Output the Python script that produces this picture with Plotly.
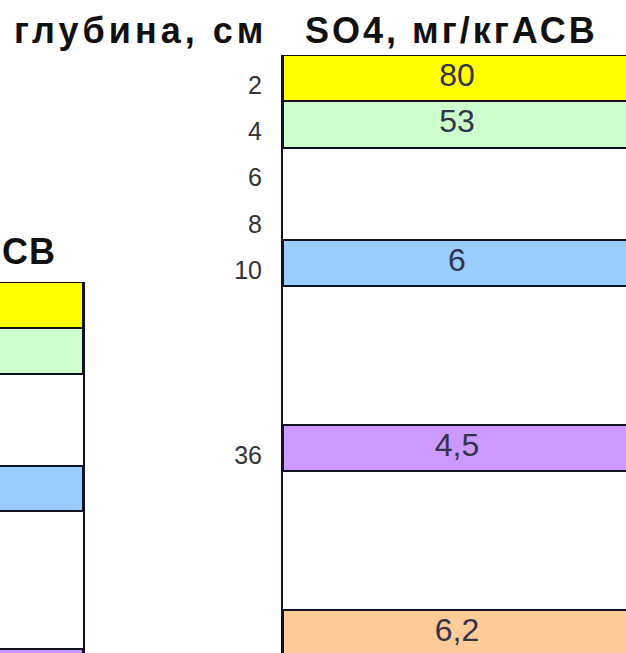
import plotly.graph_objects as go

# ---- data ----
depths = [2, 4, 6, 8, 10, 36, 50]            # глубина, см (tick labels)
rows = [0, 1, 2, 3, 4, 8, 12]                # row slot of each depth on the broken scale
so4_values = [80, 53, None, None, 6, 4.5, 6.2]
so4_labels = ["80", "53", "", "", "6", "4,5", "6,2"]
band_colors = ["#FFFF00", "#CCFFCC", None, None, "#99CCFF", "#CC99FF", "#FFCC99"]

title_depth = "глубина, см"
title_so4 = "SO4, мг/кгАСВ"
title_cropped = "СВ"   # visible tail of the neighbouring chart's title

W, H = 626, 653

# only layers with a measured value get a coloured band
bar_y = [r for r, v in zip(rows, so4_values) if v is not None]
bar_c = [c for c, v in zip(band_colors, so4_values) if v is not None]
bar_t = [t for t, v in zip(so4_labels, so4_values) if v is not None]

fig = go.Figure()

for xa, ya in (("x", "y"), ("x2", "y2")):
    fig.add_trace(go.Bar(
        orientation="h", y=bar_y, x=[1] * len(bar_y), base=0, width=1,
        marker=dict(color=bar_c, line=dict(color="#111122", width=2)),
        xaxis=xa, yaxis=ya, hoverinfo="skip", showlegend=False,
    ))

fig.add_trace(go.Scatter(
    x=[0.5] * len(bar_y), y=bar_y, mode="text", text=bar_t,
    textfont=dict(family="Liberation Sans, Arial", size=32, color="#33334A"),
    xaxis="x", yaxis="y", hoverinfo="skip", showlegend=False,
))

band_px = 46.25
top_main = 55
top_left = 282
chart_w = 348.0
main_left = 283
left_right = 83

fig.update_layout(
    width=W, height=H, margin=dict(l=0, r=0, t=0, b=0),
    paper_bgcolor="white", plot_bgcolor="white", showlegend=False,
    bargap=0,
    xaxis=dict(domain=[main_left / W, 1], range=[0, (W - main_left) / chart_w],
               showgrid=False, zeroline=False, showticklabels=False, showline=False),
    yaxis=dict(domain=[0, 1 - top_main / H],
               range=[-0.5 + (H - top_main) / band_px, -0.5],
               tickvals=rows, ticktext=[str(d) for d in depths],
               tickfont=dict(family="Liberation Sans, Arial", size=25, color="#333333"),
               ticks="", ticklabelstandoff=14, ticklabelshift=-7,
               showgrid=False, zeroline=False,
               showline=True, linecolor="#111122", linewidth=2),
    xaxis2=dict(domain=[0, left_right / W],
                range=[1 - left_right / chart_w, 1.0],
                showgrid=False, zeroline=False, showticklabels=False, showline=False),
    yaxis2=dict(domain=[0, 1 - top_left / H], anchor="x2", side="right",
                range=[-0.5 + (H - top_left) / 45.875, -0.5],
                showgrid=False, zeroline=False, showticklabels=False,
                showline=True, linecolor="#111122", linewidth=2),
)

title_font = dict(family="Liberation Sans, Arial", size=36, color="#111111")


def spaced(txt, px):
    return '<span style="letter-spacing:%dpx">%s</span>' % (px, txt)


fig.add_annotation(text="<b>" + spaced(title_depth, 4) + "</b>", xref="paper", yref="paper",
                   x=12 / W, y=1 - 30 / H, xanchor="left", yanchor="middle",
                   showarrow=False, font=title_font)
fig.add_annotation(text="<b>" + spaced(title_so4, 3) + "</b>", xref="paper", yref="paper",
                   x=303 / W, y=1 - 30 / H, xanchor="left", yanchor="middle",
                   showarrow=False, font=title_font)
fig.add_annotation(text="<b>" + spaced(title_cropped, 1) + "</b>", xref="paper", yref="paper",
                   x=0, y=1 - 252 / H, xanchor="left", yanchor="middle",
                   showarrow=False, font=title_font)

fig.write_html("out.html", config={"displayModeBar": False},
               post_script="document.body.style.margin='0';")
